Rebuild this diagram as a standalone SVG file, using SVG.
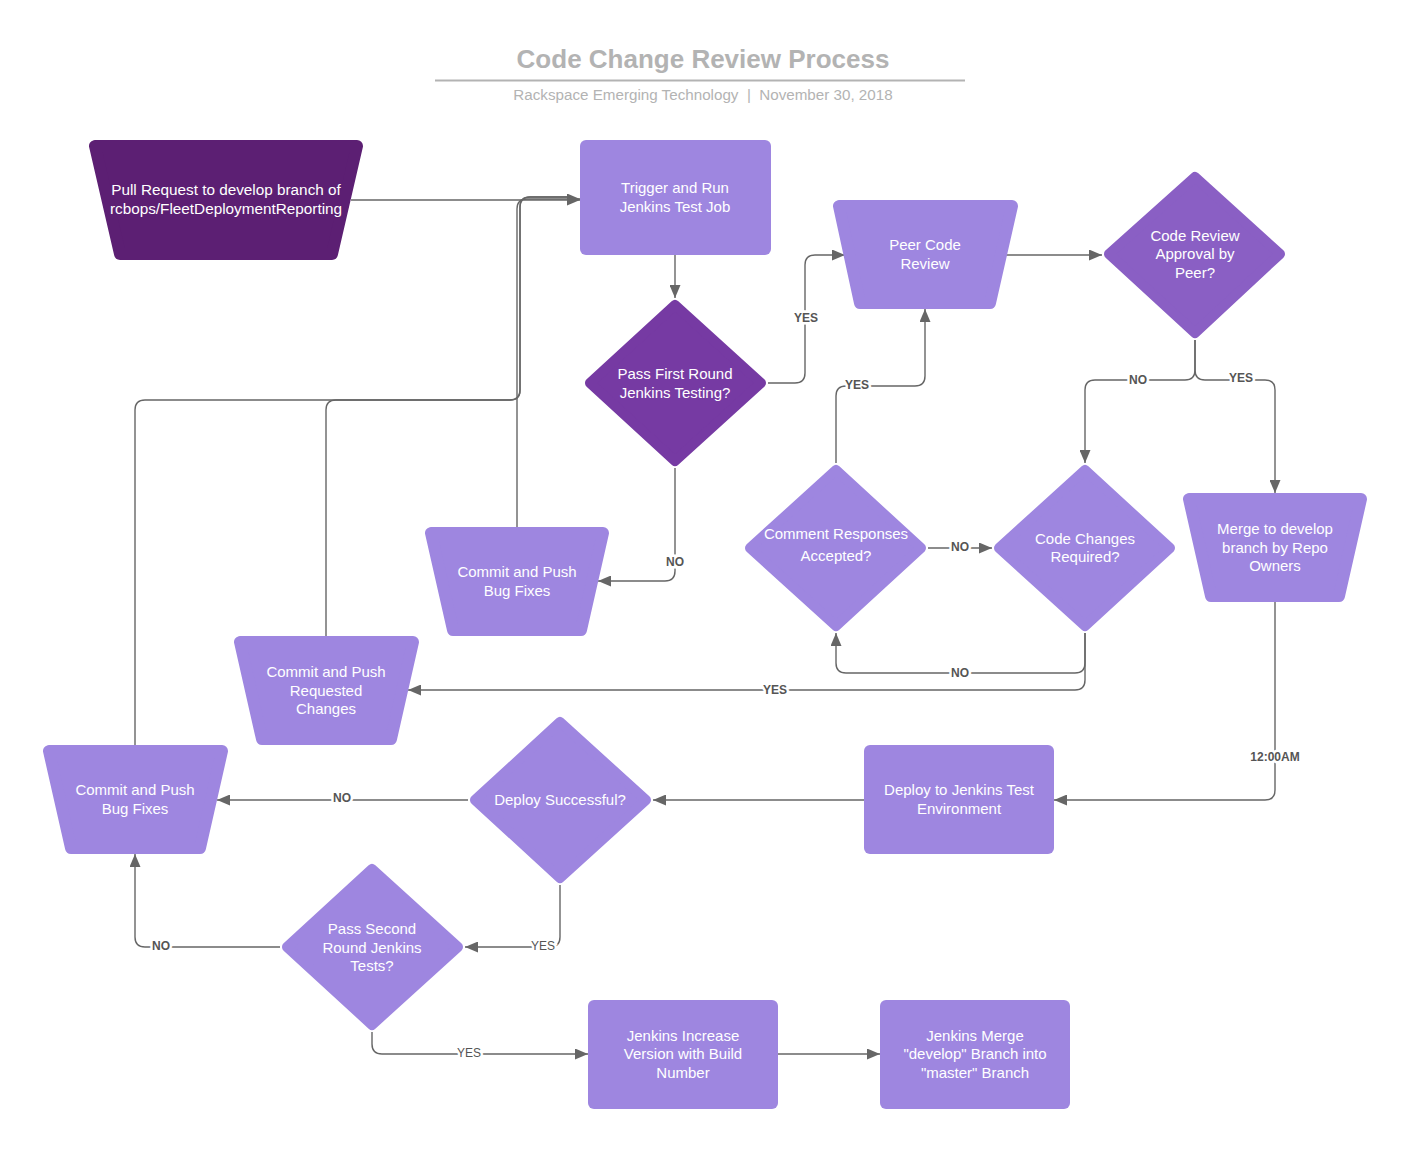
<svg xmlns="http://www.w3.org/2000/svg" width="1411" height="1150" viewBox="0 0 1411 1150">
<defs>
<marker id="arr" markerWidth="13" markerHeight="11" refX="13" refY="5.5" orient="auto" markerUnits="userSpaceOnUse"><path d="M0,0 L13,5.5 L0,11 z" fill="#666666"/></marker>
<style>
.t{font-family:"Liberation Sans",Arial,sans-serif;font-size:15px;fill:#ffffff;text-anchor:middle}
.lt{fill:#9e86e0;stroke:#9e86e0;stroke-width:12;stroke-linejoin:round}
.d{stroke-width:10}
.c{fill:none;stroke:#666666;stroke-width:1.4}
.ca{fill:none;stroke:#666666;stroke-width:1.4;marker-end:url(#arr)}
.lb{font-family:"Liberation Sans",Arial,sans-serif;font-size:12px;font-weight:bold;fill:#555555;text-anchor:middle;stroke:#ffffff;stroke-width:5;paint-order:stroke}
.lbn{font-weight:normal}
</style>
</defs>
<rect width="1411" height="1150" fill="#ffffff"/>
<g id="title">
<text x="703" y="68" style="font-family:'Liberation Sans',Arial,sans-serif;font-size:26px;font-weight:bold;fill:#b3b3b3" text-anchor="middle">Code Change Review Process</text>
<line x1="435" y1="80.5" x2="965" y2="80.5" stroke="#b3b3b3" stroke-width="2"/>
<text x="703" y="100" xml:space="preserve" style="font-family:'Liberation Sans',Arial,sans-serif;font-size:15.2px;fill:#b3b3b3;white-space:pre" text-anchor="middle">Rackspace Emerging Technology  |  November 30, 2018</text>
</g>
<g id="connectors">
<path class="ca" d="M351,200 H580"/>
<path class="ca" d="M675,255 V298"/>
<path class="ca" d="M768,383 H795 Q805,383 805,373 V265 Q805,255 815,255 H845"/>
<path class="ca" d="M675,468 V571 Q675,581 665,581 H598"/>
<path class="ca" d="M517,527 V209 Q517,199 527,199 H580"/>
<path class="c" d="M326,636 V410 Q326,400 336,400 H510 Q520,400 520,390 V207 Q520,197 530,197 H570"/>
<path class="c" d="M135,745 V410 Q135,400 145,400 H510 Q520,400 520,390 V207 Q520,197 530,197 H570"/>
<path class="ca" d="M1005,255 H1102"/>
<path class="ca" d="M1195,340 V370 Q1195,380 1185,380 H1095 Q1085,380 1085,390 V463"/>
<path class="ca" d="M1195,340 V370 Q1195,380 1205,380 H1265 Q1275,380 1275,390 V493"/>
<path class="ca" d="M836,463 V396 Q836,386 846,386 H915 Q925,386 925,376 V309"/>
<path class="ca" d="M928,548 H992"/>
<path class="ca" d="M1085,633 V663 Q1085,673 1075,673 H846 Q836,673 836,663 V633"/>
<path class="ca" d="M1085,633 V680 Q1085,690 1075,690 H408"/>
<path class="ca" d="M1275,602 V790 Q1275,800 1265,800 H1054"/>
<path class="ca" d="M864,800 H653"/>
<path class="ca" d="M468,800 H217"/>
<path class="ca" d="M560,885 V937 Q560,947 550,947 H465"/>
<path class="ca" d="M280,947 H145 Q135,947 135,937 V854"/>
<path class="ca" d="M372,1032 V1044 Q372,1054 382,1054 H588"/>
<path class="ca" d="M778,1054 H880"/>
<text class="lb" x="806" y="322">YES</text>
<text class="lb" x="675" y="566">NO</text>
<text class="lb" x="1138" y="384">NO</text>
<text class="lb" x="1241" y="382">YES</text>
<text class="lb" x="857" y="389">YES</text>
<text class="lb" x="960" y="551">NO</text>
<text class="lb" x="960" y="677">NO</text>
<text class="lb" x="775" y="694">YES</text>
<text class="lb" x="1275" y="761">12:00AM</text>
<text class="lb" x="342" y="802">NO</text>
<text class="lb lbn" x="543" y="950">YES</text>
<text class="lb" x="161" y="950">NO</text>
<text class="lb lbn" x="469" y="1057">YES</text>
</g>
<g id="pull-request">
<polygon points="95,146 357,146 332,254 120,254" fill="#5c1f73" stroke="#5c1f73" stroke-width="12" stroke-linejoin="round"/>
<text class="t" x="226" y="195" style="font-size:15.3px">Pull Request to develop branch of</text>
<text class="t" x="226" y="214" style="font-size:15.3px">rcbops/FleetDeploymentReporting</text>
</g>
<g id="trigger">
<rect x="580" y="140" width="191" height="115" rx="6" fill="#9e86e0"/>
<text class="t" x="675" y="193">Trigger and Run</text>
<text class="t" x="675" y="212">Jenkins Test Job</text>
</g>
<g id="pass-first">
<polygon points="675,305 761,383 675,461 590,383" fill="#763aa3" stroke="#763aa3" stroke-width="10" stroke-linejoin="round"/>
<text class="t" x="675" y="379">Pass First Round</text>
<text class="t" x="675" y="398">Jenkins Testing?</text>
</g>
<g id="peer-review">
<polygon class="lt" points="839,206 1012,206 990,303 860,303"/>
<text class="t" x="925" y="250">Peer Code</text>
<text class="t" x="925" y="269">Review</text>
</g>
<g id="approval">
<polygon points="1195,177 1280,254 1195,333 1109,254" fill="#8a5fc4" stroke="#8a5fc4" stroke-width="10" stroke-linejoin="round"/>
<text class="t" x="1195" y="241">Code Review</text>
<text class="t" x="1195" y="259">Approval by</text>
<text class="t" x="1195" y="278">Peer?</text>
</g>
<g id="commit-bugfix-1">
<polygon class="lt" points="431,533 603,533 581,630 453,630"/>
<text class="t" x="517" y="577">Commit and Push</text>
<text class="t" x="517" y="596">Bug Fixes</text>
</g>
<g id="comment-responses">
<polygon class="lt d" points="836,470 921,548 836,626 750,548"/>
<text class="t" x="836" y="539">Comment Responses</text>
<text class="t" x="836" y="561">Accepted?</text>
</g>
<g id="code-changes">
<polygon class="lt d" points="1085,470 1170,548 1085,626 999,548"/>
<text class="t" x="1085" y="544">Code Changes</text>
<text class="t" x="1085" y="562">Required?</text>
</g>
<g id="merge-develop">
<polygon class="lt" points="1189,499 1361,499 1339,596 1211,596"/>
<text class="t" x="1275" y="534">Merge to develop</text>
<text class="t" x="1275" y="553">branch by Repo</text>
<text class="t" x="1275" y="571">Owners</text>
</g>
<g id="commit-requested">
<polygon class="lt" points="240,642 413,642 391,739 262,739"/>
<text class="t" x="326" y="677">Commit and Push</text>
<text class="t" x="326" y="696">Requested</text>
<text class="t" x="326" y="714">Changes</text>
</g>
<g id="commit-bugfix-2">
<polygon class="lt" points="49,751 222,751 200,848 71,848"/>
<text class="t" x="135" y="795">Commit and Push</text>
<text class="t" x="135" y="814">Bug Fixes</text>
</g>
<g id="deploy-successful">
<polygon class="lt d" points="560,722 646,800 560,878 475,800"/>
<text class="t" x="560" y="805">Deploy Successful?</text>
</g>
<g id="deploy-test">
<rect x="864" y="745" width="190" height="109" rx="6" fill="#9e86e0"/>
<text class="t" x="959" y="795">Deploy to Jenkins Test</text>
<text class="t" x="959" y="814">Environment</text>
</g>
<g id="pass-second">
<polygon class="lt d" points="372,869 458,947 372,1025 287,947"/>
<text class="t" x="372" y="934">Pass Second</text>
<text class="t" x="372" y="953">Round Jenkins</text>
<text class="t" x="372" y="971">Tests?</text>
</g>
<g id="jenkins-increase">
<rect x="588" y="1000" width="190" height="109" rx="6" fill="#9e86e0"/>
<text class="t" x="683" y="1041">Jenkins Increase</text>
<text class="t" x="683" y="1059">Version with Build</text>
<text class="t" x="683" y="1078">Number</text>
</g>
<g id="jenkins-merge">
<rect x="880" y="1000" width="190" height="109" rx="6" fill="#9e86e0"/>
<text class="t" x="975" y="1041">Jenkins Merge</text>
<text class="t" x="975" y="1059">"develop" Branch into</text>
<text class="t" x="975" y="1078">"master" Branch</text>
</g>
</svg>
